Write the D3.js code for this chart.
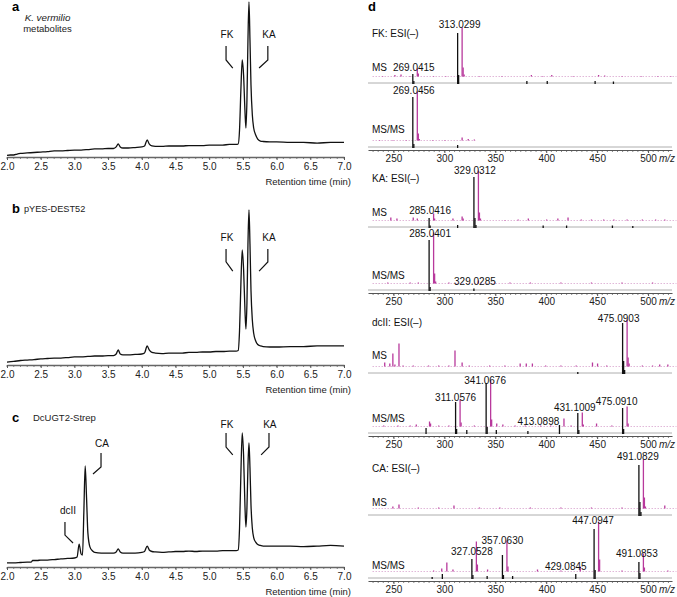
<!DOCTYPE html>
<html><head><meta charset="utf-8">
<script src="https://cdn.jsdelivr.net/npm/d3@7"></script>
<style>body{margin:0;background:#fff} svg{font-family:"Liberation Sans",Arial,sans-serif}</style>
</head><body><svg id="c" width="677" height="597"></svg>
<script>
// ---------- DATA ----------
const timeTicks = [2.0,2.5,3.0,3.5,4.0,4.5,5.0,5.5,6.0,6.5,7.0];
const mzTicks = [250,300,350,400,450,500];

// chromatograms [time (min), relative signal]
const traceA = [[2.00,1.0],[2.05,1.3],[2.10,1.3],[2.15,1.9],[2.20,2.3],[2.30,2.6],[2.40,2.9],[2.50,3.2],[2.60,3.5],[2.70,3.9],[2.80,3.9],[2.90,4.2],[3.00,4.5],[3.10,4.5],[3.20,4.8],[3.30,5.2],[3.40,5.2],[3.50,5.5],[3.58,5.5],[3.62,6.5],[3.65,8.4],[3.68,6.5],[3.72,5.8],[3.80,5.8],[3.90,6.1],[4.00,6.5],[4.04,7.1],[4.08,11.0],[4.11,8.4],[4.15,7.1],[4.20,6.8],[4.30,6.8],[4.40,7.1],[4.50,7.1],[4.60,7.1],[4.70,7.4],[4.80,7.4],[4.90,7.4],[5.00,7.7],[5.10,7.7],[5.20,7.7],[5.30,8.1],[5.40,8.1],[5.43,8.4],[5.45,17.4],[5.47,43.2],[5.49,62.6],[5.51,52.9],[5.53,30.3],[5.545,18.7],[5.56,36.8],[5.575,75.5],[5.59,100],[5.605,75.5],[5.62,46.5],[5.64,27.1],[5.66,18.7],[5.69,14.2],[5.72,11.6],[5.76,10.3],[5.80,10.0],[5.90,9.7],[6.00,9.7],[6.20,9.4],[6.40,9.4],[6.60,9.0],[6.80,9.4],[7.00,9.4]];
const traceB = [[2.00,1.9],[2.10,2.3],[2.20,2.9],[2.30,3.2],[2.40,3.5],[2.50,3.9],[2.60,4.2],[2.70,4.5],[2.80,4.5],[2.90,4.8],[3.00,5.2],[3.10,5.2],[3.20,5.5],[3.30,5.8],[3.40,5.8],[3.50,6.1],[3.58,6.1],[3.62,7.1],[3.65,9.7],[3.68,7.1],[3.72,6.5],[3.80,6.5],[3.90,6.8],[4.00,7.1],[4.04,7.7],[4.08,12.3],[4.11,9.7],[4.15,8.1],[4.20,7.7],[4.30,7.4],[4.40,7.7],[4.50,7.7],[4.60,7.7],[4.70,8.1],[4.80,8.1],[4.90,8.4],[5.00,8.4],[5.10,8.7],[5.20,8.7],[5.30,9.0],[5.40,9.0],[5.43,9.4],[5.45,22],[5.47,52],[5.49,74.2],[5.51,62],[5.53,36],[5.545,23.2],[5.56,40],[5.575,78],[5.59,100],[5.605,78],[5.62,48],[5.64,29],[5.66,20.5],[5.69,15.5],[5.72,13.2],[5.76,12.3],[5.80,11.9],[5.90,11.6],[6.00,11.6],[6.20,11.9],[6.40,11.9],[6.60,12.3],[6.80,12.3],[7.00,12.3]];
const traceC = [[2.00,2.6],[2.10,2.6],[2.20,2.9],[2.30,3.2],[2.36,3.2],[2.38,4.2],[2.45,4.2],[2.50,4.5],[2.60,4.5],[2.70,4.8],[2.80,5.2],[2.90,5.5],[3.00,5.8],[3.04,6.5],[3.07,14.8],[3.10,8.4],[3.12,7.7],[3.14,35],[3.16,65.2],[3.18,45],[3.20,22],[3.23,13],[3.27,10.3],[3.30,9.4],[3.40,9.0],[3.50,9.0],[3.58,9.0],[3.62,9.7],[3.65,11.6],[3.68,9.7],[3.72,9.0],[3.80,9.0],[3.90,9.0],[4.00,9.4],[4.04,10],[4.08,13.5],[4.11,11.0],[4.15,10.0],[4.20,9.7],[4.30,9.4],[4.40,9.7],[4.50,10.0],[4.60,10.0],[4.70,10.3],[4.80,10.0],[4.90,10.3],[5.00,10.3],[5.10,10.3],[5.20,10.6],[5.30,10.6],[5.40,10.6],[5.43,11.0],[5.45,25],[5.47,60],[5.49,86.5],[5.51,72],[5.53,40],[5.545,25.8],[5.56,38],[5.575,65],[5.59,80],[5.605,64],[5.62,40],[5.64,25],[5.66,19],[5.69,16],[5.72,14.5],[5.76,13.9],[5.80,13.5],[5.90,13.5],[6.00,13.5],[6.20,13.5],[6.40,13.2],[6.60,13.5],[6.80,13.9],[7.00,13.5]];

// chromatogram peak annotations: label, label position, bracket polyline (time, signal)
const annotA = [
  {text:"FK", t:5.264, v:76.5, path:[[5.25,71.6],[5.25,62.6],[5.35,57.4]]},
  {text:"KA", t:5.887, v:76.5, path:[[5.87,71.6],[5.87,62.6],[5.74,57.4]]}];
const annotB = [
  {text:"FK", t:5.264, v:79.7, path:[[5.25,74.8],[5.25,66.5],[5.35,60.6]]},
  {text:"KA", t:5.887, v:79.7, path:[[5.87,74.8],[5.87,66.5],[5.74,60.6]]}];
const annotC = [
  {text:"dcII", t:2.905, v:33.9, path:[[2.86,29],[2.86,20.6],[2.98,15.5]]},
  {text:"CA", t:3.41, v:77.7, path:[[3.395,73.5],[3.395,64.5],[3.276,60]]},
  {text:"FK", t:5.264, v:90, path:[[5.25,86.5],[5.25,77.4],[5.35,72.3]]},
  {text:"KA", t:5.90, v:90, path:[[5.887,86.5],[5.887,77.4],[5.77,72.3]]}];

// mass spectra [m/z, relative intensity]
const fkMsBlack = [[269,18],[270,4],[313,100],[314,16],[381,4],[401,4],[448,4],[466,3]];
const fkMsMag = [[235,1],[247,3],[253,4],[262,1],[269,16],[270,6],[285,1],[297,1],[313,98],[314,18],[315,4],[330,1],[352,1],[381,3],[392,1],[401,3],[422,1],[447,3],[453,2],[470,1],[489,1],[505,1],[518,1]];
const fkMsmsBlack = [[269,100],[270,6],[313,4]];
const fkMsmsMag = [[232,1],[245,1],[258,1],[269,98],[270,14],[271,3],[284,1],[296,1],[313,6],[319,3],[325,2]];
const kaMsBlack = [[285,18],[286,3],[313,4],[329,100],[330,18],[331,4],[397,3],[420,3],[465,3],[485,2]];
const kaMsMag = [[243,6],[249,4],[265,6],[269,4],[285,14],[286,4],[304,4],[313,8],[314,4],[329,100],[330,16],[331,4],[355,1],[368,2],[378,4],[396,2],[407,4],[417,6],[430,2],[440,2],[452,2],[462,2],[475,2],[490,2],[503,2],[512,2]];
const kaMsmsBlack = [[285,100],[286,6],[329,3]];
const kaMsmsMag = [[240,2],[262,2],[270,2],[285,102],[286,20],[287,4],[300,2],[329,6],[345,2],[360,2],[380,2],[410,2],[440,2],[470,2],[500,2]];
const dcMsBlack = [[431,2],[475,100],[476,24],[477,6]];
const dcMsMag = [[237,8],[242,6],[245,26],[247,4],[251,46],[255,2],[265,2],[280,2],[290,2],[300,2],[306,32],[313,8],[320,2],[340,2],[355,2],[370,6],[376,6],[382,6],[395,2],[410,2],[425,2],[441,8],[446,6],[455,2],[475,94],[476,18],[477,6],[490,2],[500,2],[507,4],[515,4]];
const dcMsmsBlack = [[282,10],[311,62],[312,8],[322,6],[341,100],[342,12],[351,6],[382,4],[413,16],[431,40],[432,6],[475,50],[476,8]];
const dcMsmsMag = [[236,2],[250,2],[262,2],[268,4],[281,10],[282,6],[290,2],[300,2],[311,54],[312,8],[325,2],[341,92],[342,14],[347,6],[353,4],[365,2],[375,2],[390,2],[400,2],[413,16],[420,2],[431,28],[432,4],[445,6],[460,2],[475,40],[476,6]];
const caMsBlack = [[491,100],[492,26],[493,6]];
const caMsMag = [[245,4],[251,8],[270,2],[290,2],[305,6],[330,2],[350,2],[380,2],[410,2],[440,2],[470,2],[491,98],[492,22],[493,4],[512,6]];
const caMsmsBlack = [[288,2],[298,8],[327,38],[328,6],[342,4],[357,46],[358,6],[367,4],[429,8],[447,98],[448,16],[491,32],[492,10]];
const caMsmsMag = [[285,2],[293,6],[298,18],[304,4],[327,60],[328,14],[338,4],[357,62],[358,10],[387,4],[410,2],[429,10],[447,100],[448,24],[470,2],[491,36],[492,8],[515,2]];

// peak labels [m/z, text, level, dx]
const fkMsLabels = [[313,"313.0299",111,2],[269,"269.0415",25,1]];
const fkMsmsLabels = [[269,"269.0456",107,1]];
const kaMsLabels = [[329,"329.0312",107,1],[285,"285.0416",27,1]];
const kaMsmsLabels = [[285,"285.0401",107,1],[329,"329.0285",11,1]];
const dcMsLabels = [[475,"475.0903",103,-4]];
const dcMsmsLabels = [[341,"341.0676",99,-1],[311,"311.0576",65,0],[431,"431.1009",45,-3],[475,"475.0910",57,-6],[413,"413.0898",17,-21]];
const caMsLabels = [[491,"491.0829",111,-1]];
const caMsmsLabels = [[447,"447.0947",109,-1],[357,"357.0630",69,0],[327,"327.0528",47,0],[491,"491.0853",43,-2],[429,"429.0845",17,-10]];

// ---------- DRAW ----------
const svg = d3.select("#c");
const INK = "#111", MAG = "#b8399c";

// Chromatograms
const xT = d3.scaleLinear().domain([2,7]).range([7,344]);
const chromPanels = [
  {letter:"a", trace:traceA, annot:annotA, axisY:157, lx:12, ly:11},
  {letter:"b", trace:traceB, annot:annotB, axisY:365, lx:12, ly:213},
  {letter:"c", trace:traceC, annot:annotC, axisY:567, lx:12, ly:422}
];
chromPanels.forEach(p => {
  const y = d3.scaleLinear().domain([0,100]).range([p.axisY, p.axisY-155]);
  const g = svg.append("g");
  // minor ticks
  g.selectAll("line.minor").data(d3.range(20,71).map(d=>d/10)).join("line")
    .attr("x1",d=>xT(d)).attr("x2",d=>xT(d)).attr("y1",p.axisY).attr("y2",p.axisY+2)
    .attr("stroke","#555").attr("stroke-width",0.7);
  const ax = g.append("g").attr("transform",`translate(0,${p.axisY})`)
    .call(d3.axisBottom(xT).tickValues(timeTicks).tickFormat(d3.format(".1f")).tickSize(3).tickSizeOuter(0).tickPadding(3));
  ax.select(".domain").attr("stroke","#666").attr("stroke-width",1.4);
  ax.selectAll(".tick line").attr("stroke","#555");
  ax.selectAll("text").attr("font-size",10).attr("fill","#222").attr("font-family","Liberation Sans, Arial, sans-serif");
  g.append("text").attr("x",351).attr("y",p.axisY+28).attr("text-anchor","end")
    .attr("font-size",9.5).attr("fill","#222").text("Retention time (min)");
  g.append("path").datum(p.trace)
    .attr("d", d3.line().x(d=>xT(d[0])).y(d=>y(d[1])).curve(d3.curveMonotoneX))
    .attr("fill","none").attr("stroke",INK).attr("stroke-width",1.3).attr("stroke-linejoin","round");
  p.annot.forEach(a => {
    g.append("text").attr("x",xT(a.t)).attr("y",y(a.v)).attr("text-anchor","middle")
      .attr("font-size",10).attr("fill","#111").text(a.text);
    g.append("path").datum(a.path)
      .attr("d", d3.line().x(d=>xT(d[0])).y(d=>y(d[1])))
      .attr("fill","none").attr("stroke",INK).attr("stroke-width",1.2);
  });
  g.append("text").attr("x",p.lx).attr("y",p.ly).attr("font-size",13).attr("font-weight","bold").text(p.letter);
});
svg.append("text").attr("x",47.5).attr("y",20.5).attr("text-anchor","middle").attr("font-size",9.8)
  .attr("font-style","italic").attr("fill","#222").text("K. vermilio");
svg.append("text").attr("x",47.5).attr("y",31.5).attr("text-anchor","middle").attr("font-size",9.5)
  .attr("fill","#222").text("metabolites");
svg.append("text").attr("x",24).attr("y",212).attr("font-size",9.2).attr("fill","#222").text("pYES-DEST52");
svg.append("text").attr("x",33).attr("y",421).attr("font-size",9.5).attr("fill","#222").text("DcUGT2-Strep");

// Mass spectra
const xM = d3.scaleLinear().domain([225,523.5]).range([368,672]);
const magDx = 4.5, magDy = -6.5;
svg.append("text").attr("x",368).attr("y",11).attr("font-size",13).attr("font-weight","bold").text("d");

const blocks = [
  {title:"FK: ESI(–)", titleY:36.5, axisY:150,
   rows:[{name:"MS", base:83, labelY:70.5, black:fkMsBlack, mag:fkMsMag, magRange:[225,523.5], labels:fkMsLabels},
         {name:"MS/MS", base:147, labelY:132.5, black:fkMsmsBlack, mag:fkMsmsMag, magRange:[225,326], labels:fkMsmsLabels}]},
  {title:"KA: ESI(–)", titleY:181.5, axisY:293,
   rows:[{name:"MS", base:227, labelY:215.5, black:kaMsBlack, mag:kaMsMag, magRange:[225,523.5], labels:kaMsLabels},
         {name:"MS/MS", base:290, labelY:278.5, black:kaMsmsBlack, mag:kaMsmsMag, magRange:[225,523.5], labels:kaMsmsLabels}]},
  {title:"dcII: ESI(–)", titleY:325.5, axisY:436,
   rows:[{name:"MS", base:373, labelY:358.5, black:dcMsBlack, mag:dcMsMag, magRange:[225,523.5], labels:dcMsLabels},
         {name:"MS/MS", base:433, labelY:421.5, black:dcMsmsBlack, mag:dcMsmsMag, magRange:[225,523.5], labels:dcMsmsLabels}]},
  {title:"CA: ESI(–)", titleY:471.5, axisY:581,
   rows:[{name:"MS", base:515, labelY:505.5, black:caMsBlack, mag:caMsMag, magRange:[225,523.5], labels:caMsLabels},
         {name:"MS/MS", base:578, labelY:568.5, black:caMsmsBlack, mag:caMsmsMag, magRange:[225,523.5], labels:caMsmsLabels}]}
];

blocks.forEach(b => {
  const g = svg.append("g");
  g.append("text").attr("x",372).attr("y",b.titleY).attr("font-size",10).attr("fill","#111").text(b.title);
  b.rows.forEach(r => {
    const y = d3.scaleLinear().domain([0,100]).range([r.base, r.base-50]);
    g.append("text").attr("x",372).attr("y",r.labelY).attr("font-size",10).attr("fill","#111").text(r.name);
    // magenta baseline (offset trace)
    const mg = g.append("g").attr("transform",`translate(${magDx},${magDy})`);
    mg.append("line").attr("x1",xM(r.magRange[0])).attr("x2",xM(r.magRange[1]))
      .attr("y1",r.base).attr("y2",r.base).attr("stroke","#d9a6cf").attr("stroke-width",0.8)
      .attr("stroke-dasharray","1.5,1.5");
    mg.selectAll("line.pk").data(r.mag).join("line")
      .attr("x1",d=>xM(d[0])).attr("x2",d=>xM(d[0]))
      .attr("y1",r.base).attr("y2",d=>y(d[1]))
      .attr("stroke",MAG).attr("stroke-width",1.3);
    // black baseline
    g.append("line").attr("x1",368).attr("x2",672).attr("y1",r.base).attr("y2",r.base)
      .attr("stroke","#9a9a9a").attr("stroke-width",0.8);
    g.selectAll(null).data(r.black).join("line")
      .attr("x1",d=>xM(d[0])).attr("x2",d=>xM(d[0]))
      .attr("y1",r.base+1).attr("y2",d=>y(d[1]))
      .attr("stroke",INK).attr("stroke-width",1.3);
    g.selectAll(null).data(r.labels).join("text")
      .attr("x",d=>xM(d[0])+d[3]).attr("y",d=>y(d[2]))
      .attr("text-anchor","middle").attr("font-size",10).attr("fill","#111").text(d=>d[1]);
  });
  // axis
  g.selectAll(null).data(d3.range(230,521,5)).join("line")
    .attr("x1",d=>xM(d)).attr("x2",d=>xM(d)).attr("y1",b.axisY).attr("y2",b.axisY+2)
    .attr("stroke","#555").attr("stroke-width",0.7);
  const ax = g.append("g").attr("transform",`translate(0,${b.axisY})`)
    .call(d3.axisBottom(xM).tickValues(mzTicks).tickFormat(d3.format("d")).tickSize(3).tickSizeOuter(0).tickPadding(2));
  ax.select(".domain").attr("stroke","#555").attr("stroke-width",1.2);
  ax.selectAll(".tick line").attr("stroke","#555");
  ax.selectAll("text").attr("font-size",10).attr("fill","#222").attr("font-family","Liberation Sans, Arial, sans-serif");
  g.append("text").attr("x",659).attr("y",b.axisY+12).attr("font-size",10).attr("font-style","italic")
    .attr("fill","#222").text("m/z");
});
</script>
</body></html>
